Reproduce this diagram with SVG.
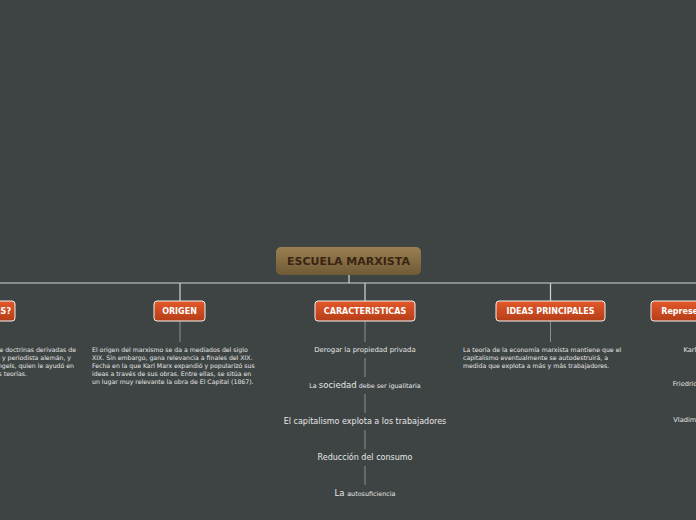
<svg xmlns="http://www.w3.org/2000/svg" width="696" height="520" viewBox="0 0 696 520">
<defs>
<linearGradient id="gRoot" x1="0" y1="0" x2="0" y2="1">
<stop offset="0" stop-color="#9a8052"/>
<stop offset="1" stop-color="#6f5a36"/>
</linearGradient>
<linearGradient id="gSub" x1="0" y1="0" x2="0" y2="1">
<stop offset="0" stop-color="#e3582a"/>
<stop offset="1" stop-color="#b53e18"/>
</linearGradient>
<style>
.sub rect{fill:url(#gSub);stroke:#f2f2f2;stroke-width:1}
.sub text{font-family:"DejaVu Sans",Verdana,sans-serif;font-size:8px;font-weight:bold;fill:#ffffff;text-anchor:middle}
.main{stroke:#cfd3d3;stroke-width:1.2;fill:none}
.thin{stroke:#8a8e8e;stroke-width:1;fill:none}
.p{font-family:"DejaVu Sans",Verdana,sans-serif;font-size:6.2px;fill:#e6e6e6}
.c{font-family:"DejaVu Sans",Verdana,sans-serif;fill:#e6e6e6;text-anchor:middle}
</style>
</defs>
<rect width="696" height="520" fill="#3e4444"/>
<g id="connectors">
<path class="main" d="M349,275V283M0,283H696M180,283V301M365,283V301M550.5,283V301M697,283V301M-5,283V301"/>
<path class="thin" d="M180,321V342M365,321V342M365,358V377M365,394V413M365,430V449M365,466V485M550.5,321V342"/>
</g>
<g id="root">
<rect x="276" y="247" width="145" height="28" rx="5" fill="url(#gRoot)"/>
<text x="348.5" y="265" font-family="DejaVu Sans,Verdana,sans-serif" font-size="11" font-weight="bold" fill="#3a2412" text-anchor="middle">ESCUELA MARXISTA</text>
</g>
<g id="n-que" class="sub">
<rect x="-45" y="301" width="60" height="20" rx="3"/>
<text x="-10" y="314">¿QUÉ ES?</text>
</g>
<g id="t-que">
<text class="p" x="76" y="352" text-anchor="end">El marxismo es el conjunto de doctrinas derivadas de</text>
<text class="p" x="71" y="360" text-anchor="end">las ideas de Karl Marx, filósofo y periodista alemán, y</text>
<text class="p" x="74" y="368" text-anchor="end">de su colaborador Friedrich Engels, quien le ayudó en</text>
<text class="p" x="27" y="376" text-anchor="end">el desarrollo de sus teorías.</text>
</g>
<g id="n-origen" class="sub">
<rect x="154" y="301" width="51" height="20" rx="3"/>
<text x="179.5" y="314">ORIGEN</text>
</g>
<g id="t-origen">
<text class="p" x="92" y="352">El origen del marxismo se da a mediados del siglo</text>
<text class="p" x="92" y="360">XIX. Sin embargo, gana relevancia a finales del XIX.</text>
<text class="p" x="92" y="368">Fecha en la que Karl Marx expandió y popularizó sus</text>
<text class="p" x="92" y="376">ideas a través de sus obras. Entre ellas, se sitúa en</text>
<text class="p" x="92" y="384">un lugar muy relevante la obra de El Capital (1867).</text>
</g>
<g id="n-caract" class="sub">
<rect x="315" y="301" width="100" height="20" rx="3"/>
<text x="365" y="314">CARACTERISTICAS</text>
</g>
<g id="c1"><text class="c" x="365" y="352" font-size="6.9">Derogar la propiedad privada</text></g>
<g id="c2"><text class="c" x="365" y="388" font-size="6.4">La <tspan font-size="8.5">sociedad</tspan> debe ser igualitaria</text></g>
<g id="c3"><text class="c" x="365" y="424" font-size="8">El capitalismo explota a los trabajadores</text></g>
<g id="c4"><text class="c" x="365" y="460" font-size="8">Reducción del consumo</text></g>
<g id="c5"><text class="c" x="365" y="496" font-size="6.4"><tspan font-size="8.5">La </tspan>autosuficiencia</text></g>
<g id="n-ideas" class="sub">
<rect x="496" y="301" width="109" height="20" rx="3"/>
<text x="550.5" y="314">IDEAS PRINCIPALES</text>
</g>
<g id="t-ideas">
<text class="p" x="463" y="352">La teoría de la economía marxista mantiene que el</text>
<text class="p" x="463" y="360">capitalismo eventualmente se autodestruirá, a</text>
<text class="p" x="463" y="368">medida que explota a más y más trabajadores.</text>
</g>
<g id="n-repr" class="sub">
<rect x="651" y="301" width="92" height="20" rx="3"/>
<text x="697" y="314">Representantes</text>
</g>
<g id="t-repr">
<text class="c" x="699" y="352" font-size="6.6">Karl Marx</text>
<text class="c" x="699" y="386" font-size="6.6">Friedrich Engels</text>
<text class="c" x="697" y="422" font-size="6.6">Vladimir Lenin</text>
</g>
</svg>
